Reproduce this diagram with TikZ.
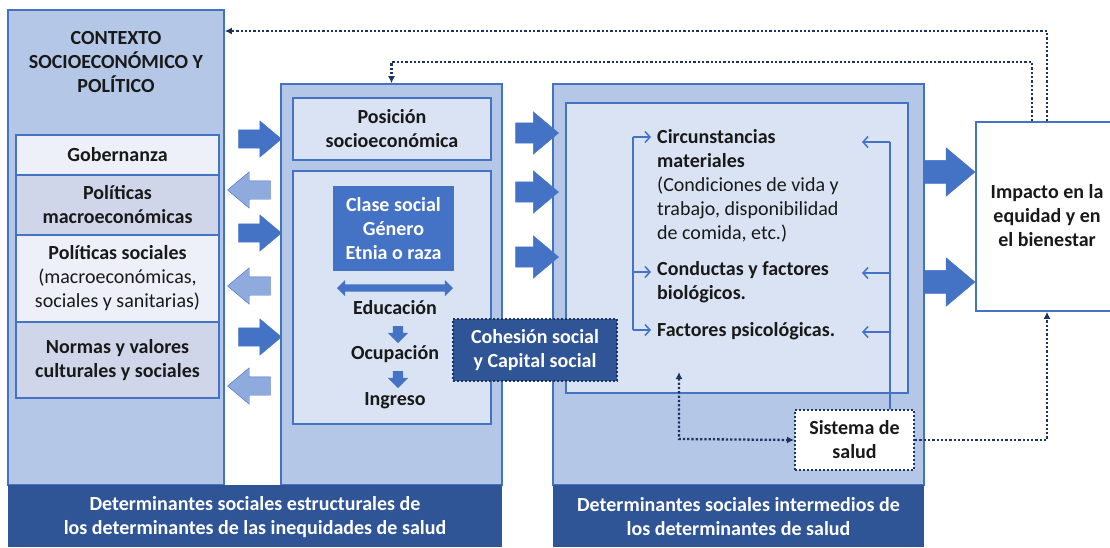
\documentclass[tikz,border=0pt]{standalone}
\usepackage{fontspec}
\setmainfont{Carlito}
\usetikzlibrary{arrows.meta, fit, shapes.arrows}

\definecolor{bordeazul}{RGB}{68,114,196}
\definecolor{fondoazul}{RGB}{180,199,231}
\definecolor{fondoclaro}{RGB}{218,227,243}
\definecolor{fondoblanco}{RGB}{237,240,248}
\definecolor{fondolila}{RGB}{208,214,234}
\definecolor{azulpalido}{RGB}{143,170,220}
\definecolor{azuloscuro}{RGB}{47,85,151}
\definecolor{azulpunteado}{RGB}{30,52,95}
\definecolor{textonegro}{RGB}{25,25,25}

\tikzset{
  caja/.style = {draw=bordeazul, line width=1.6pt, inner sep=0pt},
  subcaja/.style = {draw=bordeazul, line width=1.2pt, inner sep=0pt},
  etiq/.style = {font=\fontsize{20}{24}\selectfont\bfseries, text=textonegro, align=center, inner sep=0pt},
  flechader/.style = {single arrow, draw=bordeazul, fill=bordeazul, inner sep=9pt, minimum width=36pt, minimum height=43pt, single arrow head extend=9pt, single arrow tip angle=80},
  flechaizq/.style = {flechader, fill=azulpalido, shape border rotate=180},
  punteada/.style = {azulpunteado, line width=2.3pt, dash pattern=on 2.3pt off 2pt, -{Latex[length=7pt,width=7pt]}},
  llave/.style = {bordeazul, line width=1.5pt}
}

\begin{document}
\begin{tikzpicture}[x=1pt, y=-1pt]
\useasboundingbox (0,0) rectangle (1110,547);

% columna del contexto
\node[caja, fill=fondoazul, fit={(8,10) (224,485)}] (ctx) {};
\node[etiq] (ctxtit) at (116,62) {CONTEXTO\\SOCIOECONÓMICO Y\\POLÍTICO};
\node[subcaja, fill=fondoblanco, fit={(16,135) (219,175)}] (gob) {};
\node[subcaja, fill=fondolila, fit={(16,175) (219,235)}] (pmac) {};
\node[subcaja, fill=fondoblanco, fit={(16,235) (219,322)}] (psoc) {};
\node[subcaja, fill=fondolila, fit={(16,322) (219,398)}] (norm) {};
\node[etiq] (gobtxt) at (gob.center) {Gobernanza};
\node[etiq] (pmactxt) at (pmac.center) {Políticas\\macroeconómicas};
\node[etiq] (psoctxt) at (psoc.center) {Políticas sociales\\\mdseries(macroeconómicas,\\\mdseries sociales y sanitarias)};
\node[etiq] (normtxt) at (norm.center) {Normas y valores\\culturales y sociales};

% determinantes estructurales
\node[caja, fill=fondoazul, fit={(281,84) (502,485)}] (mid) {};
\node[subcaja, fill=fondoclaro, fit={(293,98) (491,160)}] (pos) {};
\node[etiq] (postxt) at (pos.center) {Posición\\socioeconómica};
\node[subcaja, fill=fondoclaro, fit={(293,171) (491,424)}] (strc) {};
\node[fill=bordeazul, inner sep=0pt, fit={(333,186) (454,271)}] (clase) {};
\node[etiq, text=white] (clasetxt) at (clase.center) {Clase social\\Género\\Etnia o raza};
\node[double arrow, fill=bordeazul, inner sep=3.5pt, minimum width=16pt, minimum height=116pt, double arrow head extend=4.5pt] (flechadoble) at (395,288) {};
\node[etiq] (edu) at (395,308) {Educación};
\node[etiq] (ocu) at (395,354) {Ocupación};
\node[etiq] (ing) at (395,401) {Ingreso};
\node[single arrow, fill=bordeazul, inner sep=5pt, minimum width=20pt, minimum height=17pt, single arrow head extend=5pt, rotate=-90] (abajo1) at (398,332) {};
\node[single arrow, fill=bordeazul, inner sep=5pt, minimum width=20pt, minimum height=17pt, single arrow head extend=5pt, rotate=-90] (abajo2) at (398,377) {};

% determinantes intermedios
\node[caja, fill=fondoazul, fit={(553,84) (924,485)}] (inter) {};
\node[subcaja, fill=fondoclaro, fit={(566,103) (908,393)}] (interin) {};
\node[etiq, align=left, anchor=west] (circ) at (657,185.5) {Circunstancias\\materiales\\\mdseries(Condiciones de vida y\\\mdseries trabajo, disponibilidad\\\mdseries de comida, etc.)};
\node[etiq, align=left, anchor=west] (cond) at (657,282.5) {Conductas y factores\\biológicos.};
\node[etiq, align=left, anchor=west] (fact) at (657,331) {Factores psicológicas.};

% barras inferiores
\node[fill=azuloscuro, inner sep=0pt, fit={(8,485) (502,547)}] (barizq) {};
\node[etiq, text=white] (barizqtxt) at (255,517) {Determinantes sociales estructurales de\\los determinantes de las inequidades de salud};
\node[fill=azuloscuro, inner sep=0pt, fit={(553,485) (924,547)}] (barder) {};
\node[etiq, text=white] (bardertxt) at (738.5,517) {Determinantes sociales intermedios de\\los determinantes de salud};

% cohesion y sistema de salud
\node[fill=azuloscuro, draw=azulpunteado, line width=2pt, dash pattern=on 2pt off 2pt, inner sep=0pt, fit={(453,319) (617,381)}] (coh) {};
\node[etiq, text=white] (cohtxt) at (coh.center) {Cohesión social\\y Capital social};
\node[fill=white, draw=azulpunteado, line width=2pt, dash pattern=on 2pt off 2pt, inner sep=0pt, fit={(795,410) (914,470)}] (sis) {};
\node[etiq] (sistxt) at (sis.center) {Sistema de\\salud};

% impacto
\node[caja, fill=white, fit={(976,122) (1125,311)}] (imp) {};
\node[etiq] (imptxt) at (1047,215.5) {Impacto en la\\equidad y en\\el bienestar};

% flechas de bloque
\node[flechader] (fd1) at (254.5,139) {};
\node[flechaizq] (fi1) at (254.5,190) {};
\node[flechader] (fd2) at (254.5,233) {};
\node[flechaizq] (fi2) at (254.5,286) {};
\node[flechader] (fd3) at (254.5,337) {};
\node[flechaizq] (fi3) at (254.5,386) {};
\node[flechader, inner sep=10pt, minimum width=42pt, single arrow head extend=11pt] (fm1) at (531,133) {};
\node[flechader, inner sep=10pt, minimum width=42pt, single arrow head extend=11pt] (fm2) at (531,192) {};
\node[flechader, inner sep=10pt, minimum width=42pt, single arrow head extend=11pt] (fm3) at (531,257) {};
\node[flechader, inner sep=11.5pt, minimum width=48pt, minimum height=51pt, single arrow head extend=12.5pt] (fe1) at (942.5,172) {};
\node[flechader, inner sep=11.5pt, minimum width=48pt, minimum height=51pt, single arrow head extend=12.5pt] (fe2) at (942.5,282) {};

% llaves
\coordinate (li1) at (633,137);
\coordinate (li2) at (633,272);
\coordinate (li3) at (633,330);
\draw[llave] (li1) -- (li3);
\draw[llave, -{Straight Barb[length=5pt,width=11pt]}, shorten >=6pt] (li1) -- (circ.west |- li1);
\draw[llave, -{Straight Barb[length=5pt,width=11pt]}, shorten >=6pt] (li2) -- (cond.west |- li2);
\draw[llave, -{Straight Barb[length=5pt,width=11pt]}, shorten >=6pt] (li3) -- (fact.west |- li3);
\coordinate (ld1) at (890,142);
\coordinate (ld2) at (890,273);
\coordinate (ld3) at (890,332);
\coordinate (pd1) at (862,142);
\coordinate (pd2) at (862,273);
\coordinate (pd3) at (862,332);
\draw[llave] (ld1) -- (sis.north -| ld1);
\draw[llave, -{Straight Barb[length=5pt,width=11pt]}] (ld1) -- (pd1);
\draw[llave, -{Straight Barb[length=5pt,width=11pt]}] (ld2) -- (pd2);
\draw[llave, -{Straight Barb[length=5pt,width=11pt]}] (ld3) -- (pd3);

% retroalimentacion punteada
\coordinate (r1) at (1047,31);
\coordinate (r2) at (1032,62);
\draw[punteada] (imp.north -| r1) -- (r1) -- (ctx.east |- r1);
\draw[punteada] (imp.north -| r2) -- (r2) -- (r2 -| mid.north) -- (mid.north);
\draw[punteada] (sis.east) -| (imp.south -| r1);
\coordinate (sb) at (679,439);
\coordinate (sc) at (679,372);
\draw[punteada, {Latex[length=7pt,width=7pt]}-{Latex[length=7pt,width=7pt]}] (sc) -- (sb) -- (sis.west);
\end{tikzpicture}
\end{document}
